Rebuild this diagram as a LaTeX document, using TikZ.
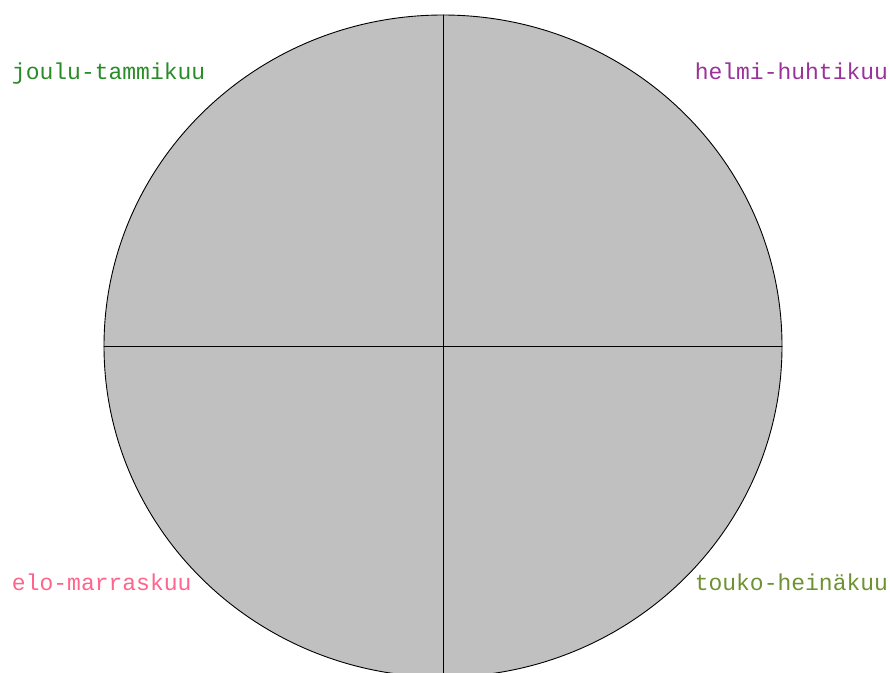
\documentclass[tikz,border=0pt]{standalone}
\usepackage{fontspec}
\newfontfamily\monofont{Liberation Mono}
\definecolor{wheelgray}{RGB}{192,192,192}
\definecolor{wintergreen}{RGB}{40,140,40}
\definecolor{springpurple}{RGB}{153,51,153}
\definecolor{summerolive}{RGB}{110,145,50}
\definecolor{autumnpink}{RGB}{255,100,140}
\begin{document}
\begin{tikzpicture}[x=1pt, y=-1pt, line cap=round, line join=round,
    season/.style={inner sep=0pt, outer sep=0pt, font=\monofont\fontsize{23}{23}\selectfont},
    wheel/.style={fill=wheelgray, draw=black, line width=0.9pt},
    spoke/.style={draw=black, line width=1pt}]
  \useasboundingbox (0,0) rectangle (890,672);
  \begin{scope}
    \clip (0,0) rectangle (890,672);
    \draw[wheel] (443,346) ellipse [x radius=339, y radius=331];
    \coordinate (hub) at (443,346);
    \draw[spoke] (443,15) -- (443,680);
    \draw[spoke] (104,346) -- (782,346);
  \end{scope}
  \node[season, anchor=base west, text=wintergreen] (winter) at (12,79) {joulu-tammikuu};
  \node[season, anchor=base east, text=springpurple] (spring) at (888,79) {helmi-huhtikuu};
  \node[season, anchor=base west, text=autumnpink] (autumn) at (12,590) {elo-marraskuu};
  \node[season, anchor=base east, text=summerolive] (summer) at (888,590) {touko-heinäkuu};
\end{tikzpicture}
\end{document}
